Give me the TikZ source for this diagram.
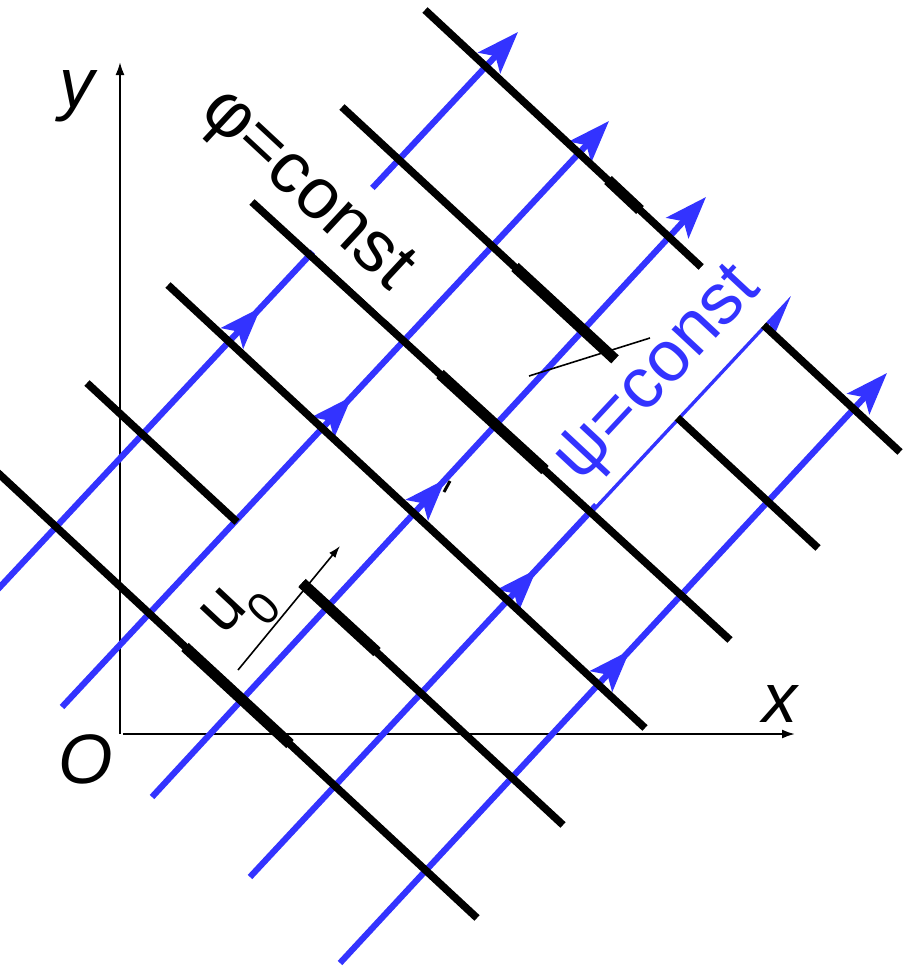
\documentclass[tikz,border=0pt]{standalone}
\usepackage{fontspec}
\setmainfont{Liberation Sans}
\usetikzlibrary{arrows.meta,decorations.markings}
\definecolor{fieldblue}{RGB}{51,51,255}
\begin{document}
\begin{tikzpicture}[x=1pt,y=-1pt,
  streamline/.style={line width=6.2pt, color=fieldblue,
    -{Stealth[length=42pt,width=30pt,inset=9pt]},
    postaction={decorate},
    decoration={markings, mark=at position 0.53 with {\arrow{Stealth[length=42pt,width=30pt,inset=9pt]}}}},
  potline/.style={line width=7.6pt, black},
  potthick/.style={line width=11pt, black},
  axisline/.style={line width=2pt, black, -{Latex[length=13pt,width=9pt]}},
  whitebox/.style={fill=white, draw=none, inner sep=0pt},
  bigtext/.style={font=\fontsize{72}{86}\selectfont, inner sep=0pt},
  axislabel/.style={font=\fontsize{70}{84}\selectfont\itshape, inner sep=0pt, anchor=base},
  thinline/.style={line width=1.6pt, black}
]
\useasboundingbox (0,0) rectangle (903,967);
\clip (0,0) rectangle (903,967);

% axes
\coordinate (O) at (120,734);
\coordinate (ytip) at (120,62);
\coordinate (xstart) at (123,734);
\coordinate (xtip) at (795,734);
\draw[axisline] (O) -- (ytip);
\draw[axisline] (xstart) -- (xtip);

% stream lines (psi = const)
\coordinate (b1s) at (-29,618); \coordinate (b1e) at (518,32);
\coordinate (b2s) at (62,707);  \coordinate (b2e) at (609,121);
\coordinate (b3s) at (152,797); \coordinate (b3e) at (706,197);
\coordinate (b4s) at (250,877); \coordinate (b4e) at (791,296);
\coordinate (b5s) at (340,963); \coordinate (b5e) at (887,373);
\foreach \i in {1,...,5} { \draw[streamline] (b\i s) -- (b\i e); }

% potential lines (phi = const)
\coordinate (k1s) at (425,10);  \coordinate (k1e) at (900,452);
\coordinate (k2s) at (342,107); \coordinate (k2e) at (818,548);
\coordinate (k3s) at (252,202); \coordinate (k3e) at (730,640);
\coordinate (k4s) at (168,285); \coordinate (k4e) at (645,728);
\coordinate (k5s) at (87,383);  \coordinate (k5m) at (237,522);
\coordinate (k5n) at (302,583); \coordinate (k5e) at (563,825);
\coordinate (k6s) at (-3,472);  \coordinate (k6e) at (477,918);
\draw[potline] (k1s) -- (k1e);
\draw[potline] (k2s) -- (k2e);
\draw[potline] (k3s) -- (k3e);
\draw[potline] (k4s) -- (k4e);
\draw[potline] (k5s) -- (k5m);
\draw[potline] (k5n) -- (k5e);
\draw[potline] (k6s) -- (k6e);

% thicker stretches
\coordinate (t1a) at (608,180); \coordinate (t1b) at (640,210);
\coordinate (t2a) at (515,267); \coordinate (t2b) at (620,364);
\coordinate (t3a) at (440,374); \coordinate (t3b) at (545,470);
\coordinate (t5a) at (302,583); \coordinate (t5b) at (377,652);
\coordinate (t6a) at (185,647); \coordinate (t6b) at (290,744);
\draw[potthick] (t1a) -- (t1b);
\draw[potthick] (t2a) -- (t2b);
\draw[potthick] (t3a) -- (t3b);
\draw[potthick] (t5a) -- (t5b);
\draw[potthick] (t6a) -- (t6b);

% label boxes
\node[whitebox, minimum width=293pt, minimum height=87pt, rotate=-42.9] (phibox) at (308.2,187.9) {};
\node[bigtext, anchor=base, rotate=-42.9] (philabel) at (294.2,203) {φ=const};
\node[whitebox, minimum width=286pt, minimum height=85pt, rotate=47] (psibox) at (662.5,371) {};
\node[bigtext, anchor=base, rotate=47, text=fieldblue] (psilabel) at (671.4,386.8) {ψ=const};

% stray strokes
\coordinate (s1a) at (529,376); \coordinate (s1b) at (650,338);
\draw[thinline] (s1a) -- (s1b);
\coordinate (s2a) at (444,492); \coordinate (s2b) at (450,481);
\draw[line width=3pt, black] (s2a) -- (s2b);

% u0 velocity
\coordinate (ua) at (238,670); \coordinate (ub) at (340,546);
\draw[thinline, -{Latex[length=12pt,width=8pt]}] (ua) -- (ub);
\node[font=\fontsize{68}{80}\selectfont, inner sep=0pt, rotate=47] (ulabel) at (223.3,610.8) {u};
\node[font=\fontsize{45}{54}\selectfont, inner sep=0pt, rotate=47] (zerolabel) at (264.2,608.3) {0};

% axis labels
\node[axislabel] (ylabel) at (77,107) {y};
\node[axislabel] (xlabel) at (780,722) {x};
\node[axislabel] (olabel) at (86,783) {O};
\end{tikzpicture}
\end{document}
